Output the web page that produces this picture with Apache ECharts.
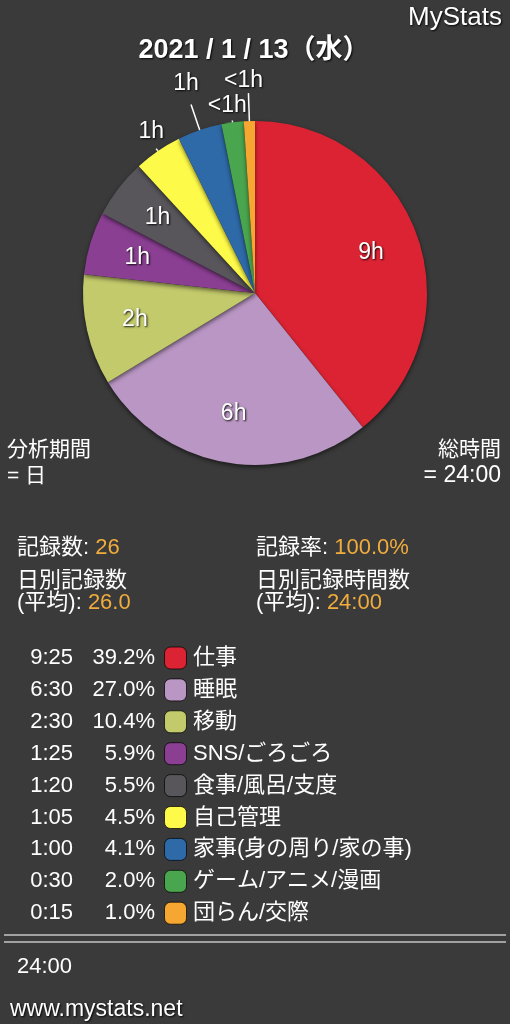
<!DOCTYPE html>
<html>
<head>
<meta charset="utf-8">
<script src="https://cdn.jsdelivr.net/npm/echarts@6/dist/echarts.min.js"></script>
<style>
html,body{margin:0;padding:0;background:#3a3a3a;}
#chart{width:510px;height:1024px;}
</style>
</head>
<body>
<div id="chart"></div>
<script>
// ---- data ----
const categories = ['仕事', '睡眠', '移動', 'SNS/ごろごろ', '食事/風呂/支度', '自己管理', '家事(身の周り/家の事)', 'ゲーム/アニメ/漫画', '団らん/交際'];
const minutes = [565, 390, 150, 85, 80, 65, 60, 30, 15];
const timeLabels = ['9:25', '6:30', '2:30', '1:25', '1:20', '1:05', '1:00', '0:30', '0:15'];
const percentLabels = ['39.2%', '27.0%', '10.4%', '5.9%', '5.5%', '4.5%', '4.1%', '2.0%', '1.0%'];
const colors = ['#dc2333', '#b996c3', '#c3ca6b', '#8b3f93', '#58565a', '#fdfa4a', '#2e6aa8', '#4aa64e', '#f5a731'];
const insideLabelIdx = [0, 1, 2, 3, 4];
const outsideLabelIdx = [5, 6, 7, 8];
const titleText = '2021 / 1 / 13（水）';
const totalText = '24:00';

// ---- styling ----
const outsideLineLen = [20, 44, 19, 45];
const outsideLabelGap = [-5, -9, -3, -1];
const FONT = "'Liberation Sans', 'Noto Sans CJK JP', sans-serif";
const WHITE = '#ffffff';
const ORANGE = '#f0ac3c';
const shadow = { textShadowColor: 'rgba(0,0,0,0.9)', textShadowBlur: 2, textShadowOffsetX: 1, textShadowOffsetY: 1 };

function hourLabel(m) {
  const h = Math.floor(m / 60);
  return h < 1 ? '<1h' : h + 'h';
}

const CENTER = [255, 293];
const R = 172;

const mainData = categories.map((c, i) => ({ name: c, value: minutes[i], itemStyle: { color: colors[i] } }));
const insideData = categories.map((c, i) => ({
  name: c, value: minutes[i],
  label: { show: insideLabelIdx.includes(i) }
}));
const outsideData = categories.map((c, i) => {
  const k = outsideLabelIdx.indexOf(i);
  return {
    name: c, value: minutes[i],
    label: { show: k >= 0 },
    labelLine: { show: k >= 0, length: k >= 0 ? outsideLineLen[k] : 0, length2: 0 }
  };
});

const labelStyle = Object.assign({
  color: WHITE, fontSize: 23, fontFamily: FONT,
  formatter: p => hourLabel(p.value)
}, shadow);

const graphic = [];
function txt(text, x, y, opts) {
  graphic.push({
    type: 'text', silent: true,
    style: Object.assign({
      text, x, y, fill: WHITE, fontSize: 22, fontFamily: FONT,
      align: 'left', verticalAlign: 'middle'
    }, opts || {})
  });
}

txt('MyStats', 502, 18, Object.assign({ align: 'right', fontSize: 26 }, shadow));
txt(titleText, 254, 51, Object.assign({ align: 'center', fontSize: 27, fontWeight: 'bold' }, shadow));

txt('分析期間', 7, 450, { fontSize: 21 });
txt('= 日', 7, 476, { fontSize: 21 });
txt('総時間', 501, 450, { fontSize: 21, align: 'right' });
txt('= ' + totalText, 501, 476, { fontSize: 23, align: 'right' });

const rich = {
  w: { fill: WHITE, fontSize: 22, fontFamily: FONT },
  o: { fill: ORANGE, fontSize: 22, fontFamily: FONT }
};
txt('{w|記録数: }{o|26}', 17, 548, { rich });
txt('{w|記録率: }{o|100.0%}', 256, 548, { rich });
txt('日別記録数', 17, 581);
txt('{w|(平均): }{o|26.0}', 17, 603, { rich });
txt('日別記録時間数', 256, 581);
txt('{w|(平均): }{o|24:00}', 256, 603, { rich });

const ROW0 = 658, ROWH = 31.9;
categories.forEach((c, i) => {
  const y = ROW0 + i * ROWH;
  txt(timeLabels[i], 73, y, { align: 'right' });
  txt(percentLabels[i], 155, y, { align: 'right' });
  graphic.push({
    type: 'rect', silent: true,
    shape: { x: 164.5, y: y - 11, width: 22, height: 22, r: 6 },
    style: { fill: colors[i], stroke: 'rgba(0,0,0,0.7)', lineWidth: 1 }
  });
  txt(c, 193, y);
});

graphic.push({ type: 'line', silent: true, shape: { x1: 4, y1: 935, x2: 506, y2: 935 }, style: { stroke: '#c4c4c4', lineWidth: 1.5 } });
graphic.push({ type: 'line', silent: true, shape: { x1: 4, y1: 942, x2: 506, y2: 942 }, style: { stroke: '#c4c4c4', lineWidth: 1.5 } });
txt(totalText, 17, 967);
txt('www.mystats.net', 10, 1010, Object.assign({ fontSize: 23 }, shadow));

const chart = echarts.init(document.getElementById('chart'), null, { renderer: 'canvas' });
chart.setOption({
  backgroundColor: '#3a3a3a',
  animation: false,
  graphic: graphic,
  series: [
    {
      type: 'pie', silent: true, center: CENTER, radius: [0, R],
      startAngle: 90, clockwise: true, avoidLabelOverlap: false,
      label: { show: false }, labelLine: { show: false },
      itemStyle: { borderWidth: 0, shadowBlur: 4, shadowColor: 'rgba(0,0,0,0.55)', shadowOffsetY: 2 },
      data: mainData
    },
    {
      type: 'pie', silent: true, center: CENTER, radius: [68, R],
      startAngle: 90, clockwise: true, avoidLabelOverlap: false,
      itemStyle: { color: 'rgba(0,0,0,0)', borderWidth: 0 },
      label: Object.assign({ position: 'inside' }, labelStyle),
      labelLine: { show: false },
      data: insideData
    },
    {
      type: 'pie', silent: true, center: CENTER, radius: [0, 155],
      startAngle: 90, clockwise: true, avoidLabelOverlap: false,
      itemStyle: { color: 'rgba(0,0,0,0)', borderWidth: 0 },
      label: Object.assign({ position: 'outside', alignTo: 'none' }, labelStyle),
      labelLine: { show: true, length: 20, length2: 0, smooth: false, lineStyle: { color: WHITE, width: 1.5 } },
      labelLayout: function (p) {
        const k = outsideLabelIdx.indexOf(p.dataIndex);
        return { align: 'center', verticalAlign: 'bottom', dy: k >= 0 ? outsideLabelGap[k] : 0 };
      },
      data: outsideData
    }
  ]
});
</script>
</body>
</html>
